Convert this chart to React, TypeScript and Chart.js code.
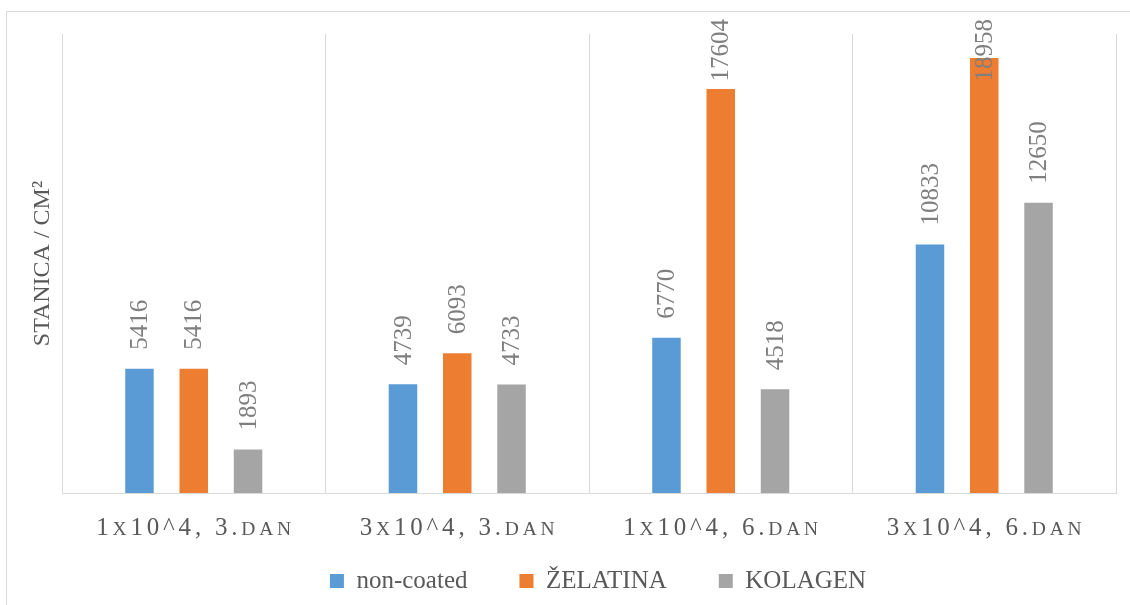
import React, { useEffect, useRef } from "react";
import { Chart, registerables } from "chart.js";

Chart.register(...registerables);

const categories = ["1x10^4, 3.dan", "3x10^4, 3.dan", "1x10^4, 6.dan", "3x10^4, 6.dan"];
const seriesNames = ["non-coated", "ŽELATINA", "KOLAGEN"];
const nonCoated = [5416, 4739, 6770, 10833];
const zelatina = [5416, 6093, 17604, 18958];
const kolagen = [1893, 4733, 4518, 12650];
const seriesColors = ["#5B9BD5", "#ED7D31", "#A5A5A5"];
const yTitle = "STANICA / CM²";

const FAMILY = "'Liberation Serif', 'Times New Roman', serif";

const dataLabelPlugin = {
  id: "dataLabels",
  afterDatasetsDraw(chart: any) {
    const ctx = chart.ctx;
    ctx.save();
    ctx.font = `25px ${FAMILY}`;
    ctx.fillStyle = "#7f7f7f";
    ctx.textAlign = "left";
    ctx.textBaseline = "middle";
    chart.data.datasets.forEach((ds: any, i: number) => {
      const meta = chart.getDatasetMeta(i);
      meta.data.forEach((bar: any, j: number) => {
        const text = String(ds.data[j]);
        const w = ctx.measureText(text).width;
        let anchor = bar.y - 19;
        if (anchor - w < 19) anchor = 19 + w;
        ctx.save();
        ctx.translate(bar.x, anchor);
        ctx.rotate(-Math.PI / 2);
        ctx.fillText(text, 0, 1);
        ctx.restore();
      });
    });
    ctx.restore();
  },
};

function drawSmallCaps(ctx: any, text: string, cx: number, baseline: number, size: number, ratio: number, spacing: number) {
  const parts = Array.from(text).map((ch) => {
    const lower = ch !== ch.toUpperCase();
    const s = lower ? size * ratio : size;
    const t = lower ? ch.toUpperCase() : ch;
    ctx.font = `${s}px ${FAMILY}`;
    return { t, s, w: ctx.measureText(t).width };
  });
  const total = parts.reduce((a, p) => a + p.w, 0) + spacing * (parts.length - 1);
  let x = cx - total / 2;
  parts.forEach((p) => {
    ctx.font = `${p.s}px ${FAMILY}`;
    ctx.fillText(p.t, x, baseline);
    x += p.w + spacing;
  });
}

const xLabelPlugin = {
  id: "xLabels",
  afterDraw(chart: any) {
    const ctx = chart.ctx;
    const xs = chart.scales.x;
    ctx.save();
    ctx.fillStyle = "#595959";
    ctx.textAlign = "left";
    ctx.textBaseline = "alphabetic";
    (chart.data.labels as string[]).forEach((lab, i) => {
      drawSmallCaps(ctx, lab, xs.getPixelForValue(i), 535, 25, 0.78, 3.8);
    });
    ctx.restore();
  },
};

const legendShiftPlugin = {
  id: "legendShift",
  afterLayout(chart: any) {
    const lg = chart.legend;
    if (lg) {
      lg.left += 40;
      lg.right += 40;
    }
  },
};

export default function App() {
  const ref = useRef<HTMLCanvasElement | null>(null);
  useEffect(() => {
    if (!ref.current) return;
    const values = [nonCoated, zelatina, kolagen];
    const chart = new Chart(ref.current, {
      type: "bar",
      data: {
        labels: categories,
        datasets: seriesNames.map((name, i) => ({
          label: name,
          data: values[i],
          backgroundColor: seriesColors[i],
          borderWidth: 0,
          categoryPercentage: 0.618,
          barPercentage: 0.525,
        })),
      },
      options: {
        responsive: false,
        animation: false,
        maintainAspectRatio: false,
        layout: { padding: { top: 34, right: 14, left: 0, bottom: 1.5 } },
        scales: {
          x: {
            offset: true,
            grid: { color: "#d9d9d9", drawTicks: false, tickLength: 0, offset: true },
            border: { color: "#d9d9d9" },
            ticks: { display: false },
            afterFit: (s: any) => {
              s.height = 23.5;
            },
          },
          y: {
            min: 0,
            max: 20000,
            ticks: { display: false },
            grid: { display: false },
            border: { display: false },
            title: {
              display: true,
              text: yTitle,
              color: "#595959",
              font: { family: FAMILY, size: 24 },
              padding: { top: 28, bottom: 0 },
            },
            afterFit: (s: any) => {
              s.width = 62;
            },
          },
        },
        plugins: {
          legend: {
            position: "bottom",
            labels: {
              boxWidth: 14,
              boxHeight: 14,
              padding: 52,
              color: "#595959",
              font: { family: FAMILY, size: 25 },
            },
          },
          tooltip: { enabled: false },
        },
      },
      plugins: [dataLabelPlugin, xLabelPlugin, legendShiftPlugin],
    });
    return () => chart.destroy();
  }, []);

  return (
    <div style={{ position: "fixed", left: 0, top: 0, width: 1130, height: 605, overflow: "hidden", background: "#fff" }}>
      <div
        style={{
          position: "absolute",
          left: 6,
          top: 11,
          width: 1200,
          height: 700,
          border: "1px solid #d9d9d9",
          boxSizing: "border-box",
        }}
      />
      <canvas ref={ref} width={1130} height={605} style={{ position: "absolute", left: 0, top: 0, width: 1130, height: 605 }} />
    </div>
  );
}
